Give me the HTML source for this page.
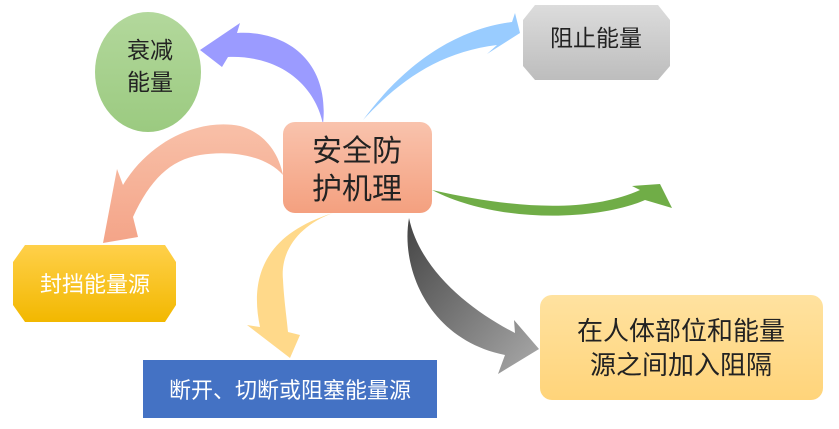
<!DOCTYPE html>
<html><head><meta charset="utf-8"><style>
html,body{margin:0;padding:0;background:#fff;}
svg{display:block;}
text{font-family:"Liberation Sans","Noto Sans CJK SC",sans-serif;}
</style></head><body>
<svg width="839" height="429" viewBox="0 0 839 429" xmlns="http://www.w3.org/2000/svg">
<defs>
<linearGradient id="gc" x1="0" y1="0" x2="0" y2="1"><stop offset="0" stop-color="#f9c3ad"/><stop offset="1" stop-color="#f4a07f"/></linearGradient>
<linearGradient id="gg" x1="0" y1="0" x2="0" y2="1"><stop offset="0" stop-color="#dcdcdc"/><stop offset="1" stop-color="#bdbdbd"/></linearGradient>
<linearGradient id="gy" x1="0" y1="0" x2="0" y2="1"><stop offset="0" stop-color="#ffd04a"/><stop offset="1" stop-color="#f2b800"/></linearGradient>
<linearGradient id="ge" x1="0" y1="0" x2="0" y2="1"><stop offset="0" stop-color="#b3d89c"/><stop offset="1" stop-color="#9bca80"/></linearGradient>
<linearGradient id="gl" x1="0" y1="0" x2="0" y2="1"><stop offset="0" stop-color="#ffe2a0"/><stop offset="1" stop-color="#ffd47a"/></linearGradient>
<linearGradient id="gk" x1="0" y1="0" x2="1" y2="1"><stop offset="0" stop-color="#444"/><stop offset="1" stop-color="#aaa"/></linearGradient>
<linearGradient id="gs" x1="0" y1="0" x2="0" y2="1"><stop offset="0" stop-color="#f8c0a8"/><stop offset="1" stop-color="#f4a488"/></linearGradient>
</defs>

<ellipse cx="148" cy="72" rx="53" ry="60" fill="url(#ge)"/>
<text x="150" y="58" font-size="23" text-anchor="middle" fill="#222">衰减</text>
<text x="150" y="90" font-size="23" text-anchor="middle" fill="#222">能量</text>

<!-- purple -->
<path d="M200,50 L240,23 L237,33 C285,30 330,60 323,124 C315,85 280,55 228,57 L222,67 Z" fill="#9b9bff"/>
<!-- light blue -->
<path d="M520,33 L515,13 L512,22 C450,30 400,70 363,120 C400,80 440,52 497,45 L487,54 Z" fill="#99ccff"/>
<!-- salmon -->
<path d="M103,243 L117,169 L123,185 C150,140 200,118 240,126 C262,132 278,150 283,175 C265,155 230,150 200,155 C170,160 150,180 133,217 L138,237 Z" fill="url(#gs)"/>
<!-- green -->
<path d="M672,208 L660,184 L632,186 L640,190 C590,212 520,210 432,190 C500,225 600,220 645,200 Z" fill="#70ad47"/>
<!-- light yellow -->
<path d="M290,358 L247,325 L260,327 C250,280 262,235 333,213 C300,225 280,250 283,280 C284,300 287,320 288,332 L300,335 Z" fill="#ffd98a"/>
<!-- gray -->
<path d="M539,349 L514,320 L515,333 C470,310 420,270 409,218 C400,270 430,340 505,355 L498,374 Z" fill="url(#gk)"/>

<rect x="283" y="122" width="149" height="91" rx="12" fill="url(#gc)"/>
<text x="357" y="161" font-size="30" text-anchor="middle" fill="#222">安全防</text>
<text x="357" y="199" font-size="30" text-anchor="middle" fill="#222">护机理</text>

<polygon points="535,5 658,5 670,20 670,66 658,80 535,80 523,66 523,20" fill="url(#gg)"/>
<text x="596" y="46" font-size="23" text-anchor="middle" fill="#222">阻止能量</text>

<polygon points="25,245 165,245 176,262 176,305 165,322 25,322 13,305 13,262" fill="url(#gy)"/>
<text x="95" y="292" font-size="22" text-anchor="middle" fill="#fff">封挡能量源</text>

<rect x="143" y="360" width="294" height="58" fill="#4472c4"/>
<text x="290" y="398" font-size="22" text-anchor="middle" fill="#fff">断开、切断或阻塞能量源</text>

<rect x="540" y="295" width="283" height="105" rx="12" fill="url(#gl)"/>
<text x="681" y="340" font-size="26" text-anchor="middle" fill="#222">在人体部位和能量</text>
<text x="681" y="374" font-size="26" text-anchor="middle" fill="#222">源之间加入阻隔</text>
</svg>
</body></html>
